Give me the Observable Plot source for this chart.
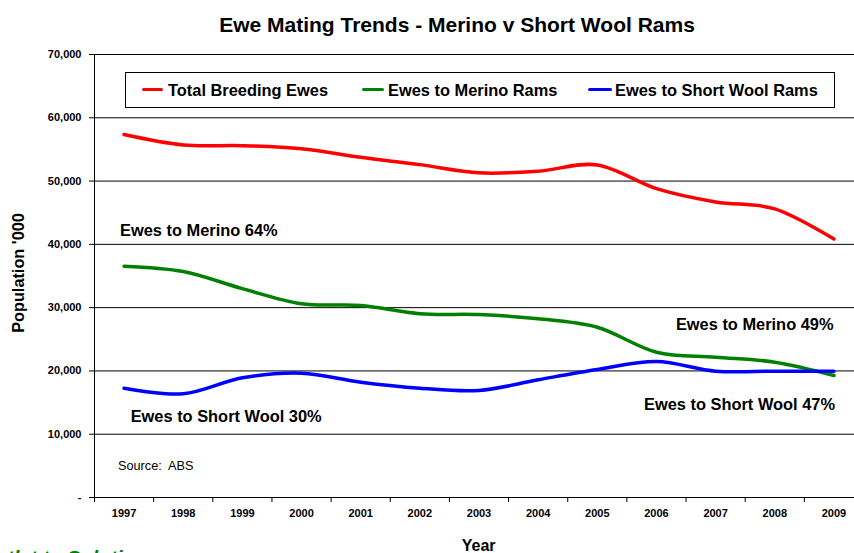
<!DOCTYPE html>
<html>
<head>
<meta charset="utf-8">
<script src="https://cdn.jsdelivr.net/npm/d3@7"></script>
<script src="https://cdn.jsdelivr.net/npm/@observablehq/plot@0.6"></script>
<style>
  html, body { margin: 0; padding: 0; overflow: hidden; background: #fff; }
  #wrap { position: relative; width: 854px; height: 553px; overflow: hidden; font-family: "Liberation Sans", Arial, sans-serif; }
  #wrap svg { position: absolute; left: 0; top: 0; }
  .t { position: absolute; white-space: pre; line-height: 1; color: #000; }
</style>
</head>
<body>
<div id="wrap"></div>
<script>
// ---- data ----
const years = [1997, 1998, 1999, 2000, 2001, 2002, 2003, 2004, 2005, 2006, 2007, 2008, 2009];
const totalBreedingEwes = [57350, 55700, 55600, 55100, 53750, 52600, 51300, 51550, 52550, 48800, 46700, 45600, 40850];
const ewesToMerino = [36550, 35700, 33000, 30600, 30340, 29030, 28900, 28240, 26900, 22960, 22170, 21380, 19280];
const ewesToShortWool = [17270, 16380, 18910, 19640, 18220, 17270, 16910, 18600, 20220, 21490, 19960, 19960, 19960];
const yTicks = [0, 10000, 20000, 30000, 40000, 50000, 60000, 70000];
const seriesNames = ["Total Breeding Ewes", "Ewes to Merino Rams", "Ewes to Short Wool Rams"];
const seriesColors = ["#ff0000", "#008000", "#0000ff"];
const boundaries = years.map(y => y - 0.5).concat([years[years.length - 1] + 0.5]);

const wrap = document.getElementById("wrap");

const chart = Plot.plot({
  width: 854,
  height: 553,
  marginLeft: 94,
  marginRight: 0,
  marginTop: 54,
  marginBottom: 56,
  style: { fontFamily: "Liberation Sans, Arial, sans-serif", background: "transparent", color: "#000" },
  x: { type: "linear", domain: [years[0] - 0.5, years[years.length - 1] + 0.5], range: [94, 863] },
  y: { domain: [0, 70000] },
  marks: [
    Plot.ruleY(yTicks.slice(1), { stroke: "#000", strokeWidth: 1 }),
    Plot.ruleY([0], { stroke: "#000", strokeWidth: 1 }),
    Plot.ruleX([years[0] - 0.5], { stroke: "#000", strokeWidth: 1 }),
    Plot.axisY(yTicks, {
      tickSize: 5, tickPadding: 8, fontSize: 11, fontWeight: "bold", label: null,
      tickFormat: d => d === 0 ? "-" : d3.format(",")(d)
    }),
    Plot.axisX(boundaries, { tickSize: 5, tickFormat: () => "", label: null }),
    Plot.axisX(years, { tickSize: 0, tickPadding: 12, fontSize: 11, fontWeight: "bold", tickFormat: "d", label: null }),
    Plot.lineY(totalBreedingEwes, { x: years, stroke: seriesColors[0], strokeWidth: 3.5, curve: "cardinal", strokeLinecap: "round" }),
    Plot.lineY(ewesToMerino, { x: years, stroke: seriesColors[1], strokeWidth: 3.5, curve: "cardinal", strokeLinecap: "round" }),
    Plot.lineY(ewesToShortWool, { x: years, stroke: seriesColors[2], strokeWidth: 3.5, curve: "cardinal", strokeLinecap: "round" })
  ]
});
wrap.appendChild(chart);

// ---- text helpers ----
function place(text, x, cy, fs, opts = {}) {
  const d = document.createElement("div");
  d.className = "t";
  d.textContent = text;
  d.style.fontSize = fs + "px";
  d.style.fontWeight = opts.weight || "bold";
  if (opts.italic) d.style.fontStyle = "italic";
  if (opts.color) d.style.color = opts.color;
  d.style.top = (cy - 0.4885 * fs) + "px";
  if (opts.align === "center") {
    d.style.left = x + "px";
    d.style.transform = "translateX(-50%)";
  } else if (opts.align === "right") {
    d.style.right = (854 - x) + "px";
  } else {
    d.style.left = x + "px";
  }
  wrap.appendChild(d);
  return d;
}

// title
place("Ewe Mating Trends - Merino v Short Wool Rams", 457, 24.5, 21, { align: "center" });

// legend box
const box = document.createElement("div");
box.style.cssText = "position:absolute;left:125px;top:72px;width:708px;height:34px;border:1px solid #000;background:#fff;";
wrap.appendChild(box);
const swatchX = [[142, 163], [362, 384], [588, 612]];
const legendTextX = [168, 388, 615];
seriesNames.forEach((name, i) => {
  const s = document.createElement("div");
  s.style.cssText = `position:absolute;left:${swatchX[i][0]}px;top:87.5px;width:${swatchX[i][1] - swatchX[i][0]}px;height:3.5px;background:${seriesColors[i]};border-radius:2px;`;
  wrap.appendChild(s);
  place(name, legendTextX[i], 90, 16.4);
});

// annotations
place("Ewes to Merino 64%", 120, 230, 16.4);
place("Ewes to Short Wool 30%", 130.7, 416, 16.4);
place("Ewes to Merino 49%", 833.5, 324.3, 16.4, { align: "right" });
place("Ewes to Short Wool 47%", 835, 404.3, 16.4, { align: "right" });
place("Source:  ABS", 118, 466.7, 12.7, { weight: "normal" });

// axis titles
place("Year", 478.7, 546, 16, { align: "center" });
const yl = place("Population '000", 18.3, 273, 16.3);
yl.style.left = "18.3px";
yl.style.top = "273px";
yl.style.transform = "translate(-50%, -50%) rotate(-90deg)";

// clipped footer text (only the tops of the glyphs are visible in the reference)
place("Outlet to ", 67, 557.8, 20, { align: "right", italic: true, color: "#008000" });
place("Solutions", 67, 557.8, 20, { italic: true, color: "#008000" });
</script>
</body>
</html>
